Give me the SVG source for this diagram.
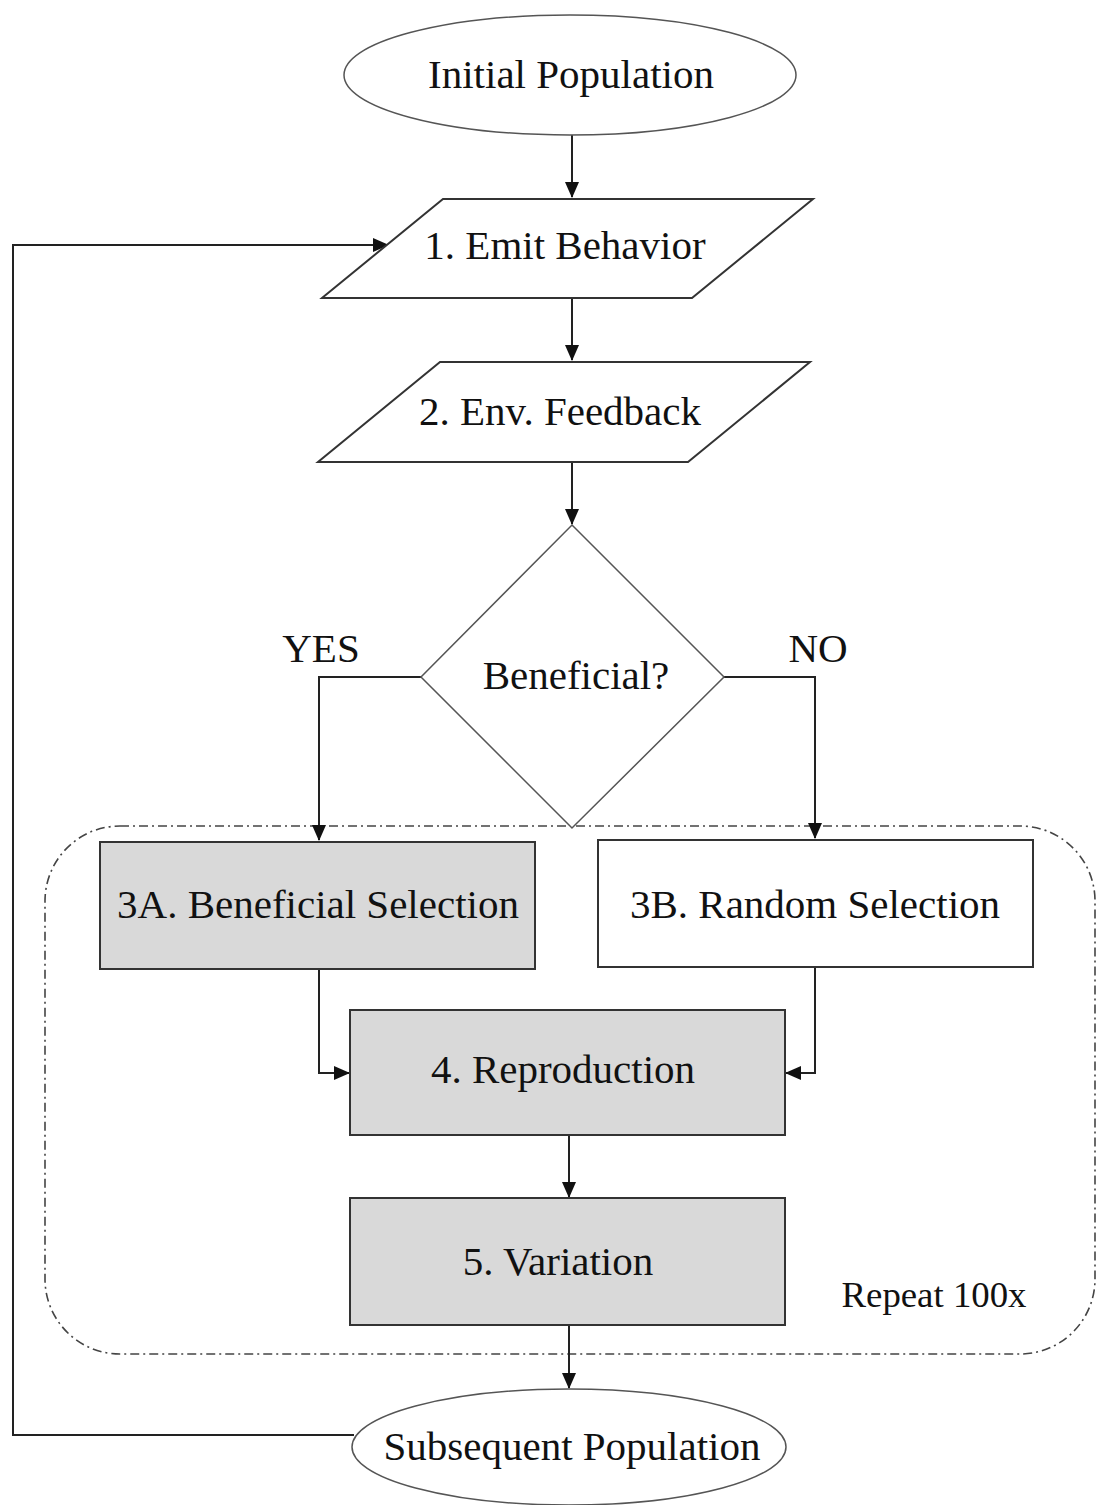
<svg xmlns="http://www.w3.org/2000/svg" width="1097" height="1505" viewBox="0 0 1097 1505">
<style>
  text { font-family: "Liberation Serif", "Times New Roman", serif; font-size: 41px; fill: #111; text-anchor: middle; }
  .shape { stroke: #333; stroke-width: 2; fill: #fff; }
  .grey { fill: #d9d9d9; }
  .thin { stroke: #555; stroke-width: 1.5; fill: #fff; }
  .conn { stroke: #222; stroke-width: 2; fill: none; }
  .group { stroke: #444; stroke-width: 1.6; fill: none; stroke-dasharray: 9 4 2 4; }
</style>
<defs>
  <marker id="arrow" markerUnits="userSpaceOnUse" markerWidth="16" markerHeight="14" refX="15" refY="7" orient="auto">
    <path d="M0,0 L16,7 L0,14 Z" fill="#111"/>
  </marker>
</defs>
<rect width="1097" height="1505" fill="#fff"/>

<g id="repeat-group">
  <rect class="group" x="45" y="826" width="1050" height="528" rx="75" ry="75"/>
  <text x="934" y="1307" style="font-size:35px" textLength="185" lengthAdjust="spacingAndGlyphs">Repeat 100x</text>
</g>

<g id="connectors">
  <path class="conn" d="M572,135 L572,197" marker-end="url(#arrow)"/>
  <path class="conn" d="M572,298 L572,360" marker-end="url(#arrow)"/>
  <path class="conn" d="M572,462 L572,524" marker-end="url(#arrow)"/>
  <path class="conn" d="M421,677 L319,677 L319,840" marker-end="url(#arrow)"/>
  <path class="conn" d="M724,677 L815,677 L815,838" marker-end="url(#arrow)"/>
  <path class="conn" d="M319,969 L319,1073 L349,1073" marker-end="url(#arrow)"/>
  <path class="conn" d="M815,967 L815,1073 L786,1073" marker-end="url(#arrow)"/>
  <path class="conn" d="M569,1135 L569,1197" marker-end="url(#arrow)"/>
  <path class="conn" d="M569,1325 L569,1388" marker-end="url(#arrow)"/>
  <path class="conn" d="M354,1435 L13,1435 L13,245 L388,245" marker-end="url(#arrow)"/>
  <text x="321" y="662">YES</text>
  <text x="818" y="662">NO</text>
</g>

<g id="initial-population">
  <ellipse class="thin" cx="570" cy="75" rx="226" ry="60"/>
  <text x="571" y="88">Initial Population</text>
</g>

<g id="emit-behavior">
  <polygon class="shape" points="443,199 813,199 692,298 322,298"/>
  <text x="565" y="259">1. Emit Behavior</text>
</g>

<g id="env-feedback">
  <polygon class="shape" points="440,362 810,362 688,462 318,462"/>
  <text x="560" y="425">2. Env. Feedback</text>
</g>

<g id="beneficial">
  <polygon class="thin" points="572,525 724,677 572,828 421,677"/>
  <text x="576" y="689">Beneficial?</text>
</g>

<g id="beneficial-selection">
  <rect class="shape grey" x="100" y="842" width="435" height="127"/>
  <text x="318" y="918">3A. Beneficial Selection</text>
</g>

<g id="random-selection">
  <rect class="shape" x="598" y="840" width="435" height="127"/>
  <text x="815" y="918">3B. Random Selection</text>
</g>

<g id="reproduction">
  <rect class="shape grey" x="350" y="1010" width="435" height="125"/>
  <text x="563" y="1083">4. Reproduction</text>
</g>

<g id="variation">
  <rect class="shape grey" x="350" y="1198" width="435" height="127"/>
  <text x="558" y="1275">5. Variation</text>
</g>

<g id="subsequent-population">
  <ellipse class="thin" cx="569" cy="1447" rx="217" ry="58"/>
  <text x="572" y="1460">Subsequent Population</text>
</g>
</svg>
